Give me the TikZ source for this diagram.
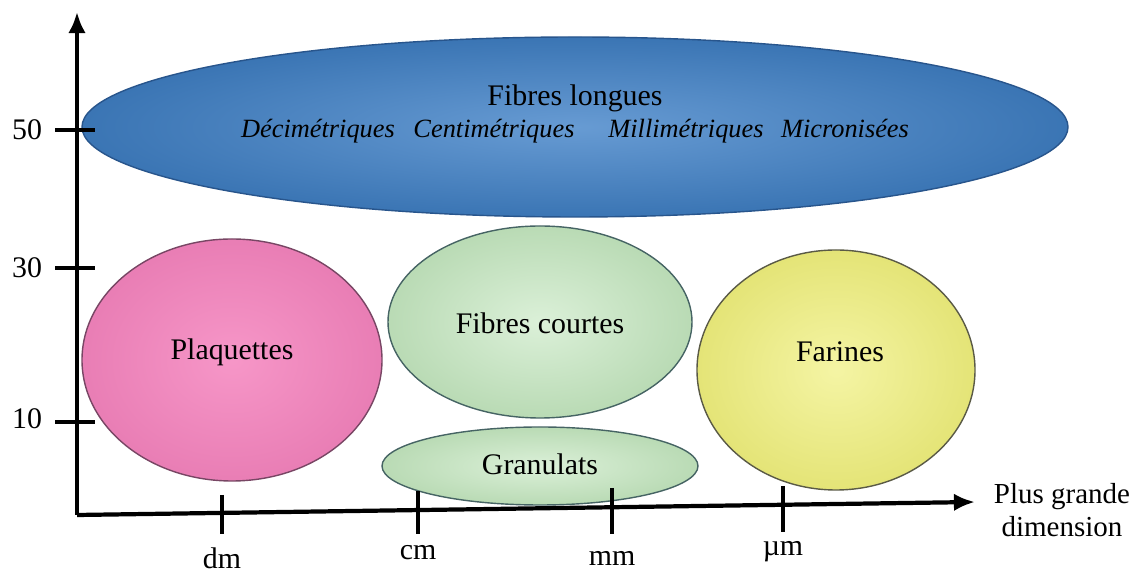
\documentclass[tikz,border=0pt]{standalone}
\usepackage{fontspec}
\setmainfont{Liberation Serif}
\usepackage{xcolor}
\usepackage{tikz}
\usetikzlibrary{arrows.meta, positioning, shapes.geometric, calc}
\definecolor{longblue}{RGB}{65, 130, 200}
\definecolor{longedge}{RGB}{40, 85, 140}
\definecolor{plaqpink}{RGB}{245, 132, 190}
\definecolor{plaqedge}{RGB}{120, 70, 100}
\definecolor{courtgreen}{RGB}{195, 230, 190}
\definecolor{courtedge}{RGB}{70, 100, 100}
\definecolor{farinyellow}{RGB}{240, 240, 125}
\definecolor{farinedge}{RGB}{90, 90, 70}

\begin{document}
\begin{tikzpicture}[
    every node/.style={font=\rmfamily\fontsize{17}{20}\selectfont},
    blob/.style={ellipse, inner sep=0pt, line width=0.8pt, align=center},
    kind/.style={anchor=base, font=\rmfamily\itshape\fontsize{15}{18}\selectfont},
    axis/.style={line width=2.4pt, -{Latex[length=12pt, width=10pt]}},
    tick/.style={line width=2pt}
]
\useasboundingbox (0, 0) rectangle (22.82, 11.52);

% particle families
\node[blob, draw=longedge, inner color=longblue!80!white, outer color=longblue!90!black, minimum width=19.72cm, minimum height=3.6cm] (long) at (11.5, 8.98) {};
\node[blob, draw=plaqedge, inner color=plaqpink!85!white, outer color=plaqpink!95!black, minimum width=6cm, minimum height=4.84cm] (plaq) at (4.64, 4.32) {};
\node[blob, draw=courtedge, inner color=courtgreen!60!white, outer color=courtgreen!95!black, minimum width=6.08cm, minimum height=3.84cm] (court) at (10.8, 5.08) {};
\node[blob, draw=courtedge, inner color=courtgreen!60!white, outer color=courtgreen!95!black, minimum width=6.32cm, minimum height=1.56cm] (gran) at (10.8, 2.2) {};
\node[blob, draw=farinedge, inner color=farinyellow!70!white, outer color=farinyellow!95!black, minimum width=5.56cm, minimum height=4.8cm] (farin) at (16.72, 4.12) {};

\node[anchor=base] (longlbl) at (11.5, 9.4) {Fibres longues};
\node[kind] (deci) at (6.36, 8.76) {Décimétriques};
\node[kind] (centi) at (9.88, 8.76) {Centimétriques};
\node[kind] (milli) at (13.72, 8.76) {Millimétriques};
\node[kind] (micro) at (16.9, 8.76) {Micronisées};
\node (plaqlbl) at (4.64, 4.48) {Plaquettes};
\node (courtlbl) at (10.8, 5.06) {Fibres courtes};
\node (granlbl) at (10.8, 2.24) {Granulats};
\node (farinlbl) at (16.8, 4.48) {Farines};

% axes
\coordinate (O) at (1.54, 1.22);
\coordinate (ytop) at (1.54, 11.28);
\coordinate (xend) at (19.5, 1.48);
\draw[axis] (O) -- (ytop);
\draw[axis] (O) -- (xend);

\draw[tick] (1.1, 8.92) -- (1.9, 8.92);
\draw[tick] (1.1, 6.16) -- (1.9, 6.16);
\draw[tick] (1.1, 3.08) -- (1.9, 3.08);
\node (y50) at (0.54, 8.92) {50};
\node (y30) at (0.54, 6.16) {30};
\node (y10) at (0.54, 3.14) {10};

\draw[tick] (4.44, 1.62) -- (4.44, 0.84);
\draw[tick] (8.36, 1.70) -- (8.36, 0.84);
\draw[tick] (12.24, 1.76) -- (12.24, 0.84);
\draw[tick] (15.66, 1.80) -- (15.66, 0.88);
\node (dm) at (4.44, 0.36) {dm};
\node (cm) at (8.36, 0.46) {cm};
\node (mm) at (12.24, 0.36) {mm};
\node (um) at (15.66, 0.48) {µm};
\node[align=center, font=\rmfamily\fontsize{16.5}{19}\selectfont] (xlbl) at (21.24, 1.32) {Plus grande\\dimension};
\end{tikzpicture}
\end{document}
